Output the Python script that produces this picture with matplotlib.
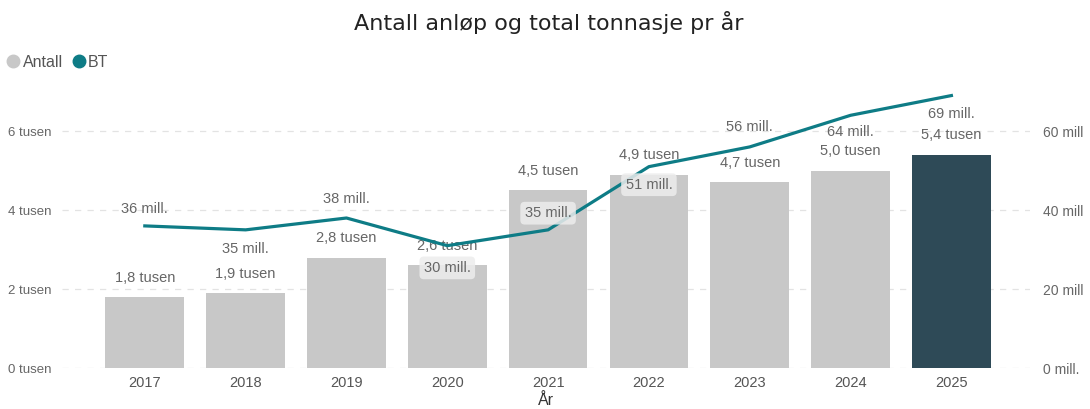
import matplotlib
matplotlib.use("Agg")
import matplotlib.pyplot as plt
from matplotlib.lines import Line2D

years = ["2017", "2018", "2019", "2020", "2021", "2022", "2023", "2024", "2025"]
antall = [1.8, 1.9, 2.8, 2.6, 4.5, 4.9, 4.7, 5.0, 5.4]          # tusen
bt = [36, 35, 38, 31, 35, 51, 56, 64, 69]                         # mill.
antall_labels = ["1,8 tusen", "1,9 tusen", "2,8 tusen", "2,6 tusen", "4,5 tusen",
                 "4,9 tusen", "4,7 tusen", "5,0 tusen", "5,4 tusen"]
bt_labels = ["36 mill.", "35 mill.", "38 mill.", "30 mill.", "35 mill.",
             "51 mill.", "56 mill.", "64 mill.", "69 mill."]
left_ticks = [0, 2, 4, 6]
left_ticklabels = ["0 tusen", "2 tusen", "4 tusen", "6 tusen"]
right_ticks = [0, 20, 40, 60]
right_ticklabels = ["0 mill.", "20 mill", "40 mill", "60 mill"]

# label placement (offset in points, whether a box is drawn)
bt_offsets = [12, -14, 14, -16, 12, -13, 14, -12, -13]
bt_boxed = [False, False, False, True, True, True, False, False, False]

bar_color = "#C8C8C8"
hl_color = "#2E4A57"
line_color = "#0E7C86"
text_gray = "#666666"

plt.rcParams['font.family'] = ['Liberation Sans', 'DejaVu Sans']

fig = plt.figure(figsize=(10.9, 4.09), dpi=100)
ax = fig.add_axes([0.057, 0.1, 0.888, 0.705])
ax2 = ax.twinx()

x = list(range(len(years)))
colors = [bar_color] * (len(years) - 1) + [hl_color]
ax.bar(x, antall, width=0.78, color=colors, zorder=2)
ax.set_ylim(0, 7.3)
ax.set_xlim(-0.82, 8.78)
ax2.set_ylim(0, 73)

ax.set_yticks(left_ticks)
ax.set_yticklabels(left_ticklabels)
ax2.set_yticks(right_ticks)
ax2.set_yticklabels(right_ticklabels)
ax.set_xticks(x)
ax.set_xticklabels(years)

for a in (ax, ax2):
    for s in a.spines.values():
        s.set_visible(False)
    a.tick_params(length=0, colors=text_gray, labelsize=9.5)
ax.tick_params(axis='x', labelsize=10.5, colors="#555555", pad=6)
ax.tick_params(axis='y', pad=8)
ax2.tick_params(axis='y', pad=9, labelsize=10)
ax.grid(axis='y', color="#E3E3E3", linestyle=(0, (5, 5)), linewidth=0.9, zorder=0)
ax.set_axisbelow(True)

ax.set_xlabel("År", fontsize=11.5, color="#333333", labelpad=2)

for i, (v, lab) in enumerate(zip(antall, antall_labels)):
    ax.annotate(lab, (i, v), xytext=(0, 9), textcoords="offset points",
                ha="center", va="bottom", fontsize=10.5, color=text_gray, zorder=5)

ax2.plot(x, bt, color=line_color, linewidth=2.3, zorder=3)
for i, (v, lab) in enumerate(zip(bt, bt_labels)):
    kw = {}
    if bt_boxed[i]:
        kw["bbox"] = dict(boxstyle="round,pad=0.3", fc="#EDEDED", ec="none", alpha=0.85)
    ax2.annotate(lab, (i, v), xytext=(0, bt_offsets[i]), textcoords="offset points",
                 ha="center", va="center", fontsize=10.5, color=text_gray, zorder=6, **kw)

fig.text(0.503, 0.945, "Antall anløp og total tonnasje pr år", ha="center", va="center",
         fontsize=16, color="#222222", family="DejaVu Sans")

handles = [Line2D([], [], marker="o", linestyle="none", markersize=9, color=bar_color),
           Line2D([], [], marker="o", linestyle="none", markersize=9, color=line_color)]
fig.legend(handles, ["Antall", "BT"], loc="center left", bbox_to_anchor=(0.006, 0.848),
           ncol=2, frameon=False, fontsize=11.5, handlelength=0.8, handletextpad=0.2,
           columnspacing=0.6, borderpad=0, borderaxespad=0, labelcolor="#555555")

fig.savefig("out.png", dpi=100)
